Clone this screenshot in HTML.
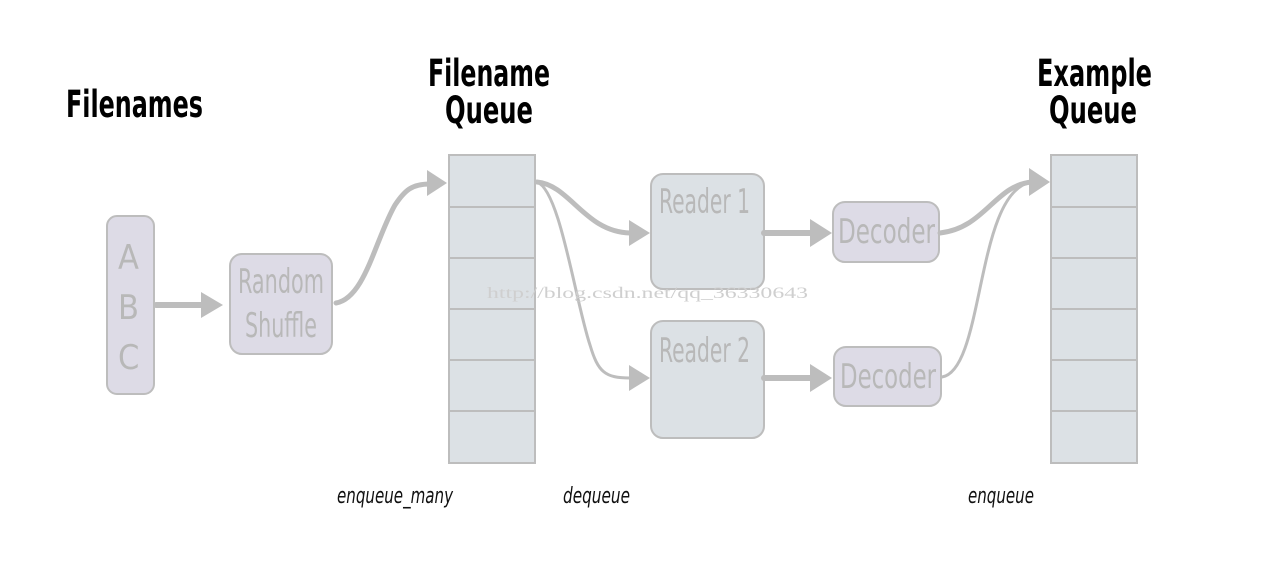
<!DOCTYPE html>
<html><head><meta charset="utf-8"><style>
html,body{margin:0;padding:0;background:#fff;}
svg{display:block;}
.t{font-family:"DejaVu Sans Condensed","DejaVu Sans",sans-serif;font-weight:bold;fill:#000;font-size:37px;}
.b{font-family:"DejaVu Sans Condensed","DejaVu Sans",sans-serif;fill:#b8b8b8;font-size:34px;}
.i{font-family:"DejaVu Sans Condensed","DejaVu Sans",sans-serif;font-style:italic;fill:#111;font-size:22px;}
</style></head><body>
<svg width="1277" height="563" viewBox="0 0 1277 563" xmlns="http://www.w3.org/2000/svg">
<rect width="1277" height="563" fill="#fff"/>
<text class="t" x="66" y="117" textLength="137" lengthAdjust="spacingAndGlyphs">Filenames</text>
<text class="t" x="428" y="86" textLength="122" lengthAdjust="spacingAndGlyphs">Filename</text>
<text class="t" x="445" y="123" textLength="88" lengthAdjust="spacingAndGlyphs">Queue</text>
<text class="t" x="1037" y="86" textLength="115" lengthAdjust="spacingAndGlyphs">Example</text>
<text class="t" x="1049" y="123" textLength="88" lengthAdjust="spacingAndGlyphs">Queue</text>

<g stroke="#bdbdbd" stroke-width="2">
<rect x="107" y="216" width="47" height="178" rx="10" fill="#dddbe6"/>
<rect x="230" y="254" width="102" height="100" rx="12" fill="#dddbe6"/>
<rect x="651" y="174" width="113" height="115" rx="12" fill="#dce1e5"/>
<rect x="651" y="321" width="113" height="117" rx="12" fill="#dce1e5"/>
<rect x="833" y="202" width="106" height="60" rx="12" fill="#dddbe6"/>
<rect x="834" y="347" width="107" height="59" rx="12" fill="#dddbe6"/>
<rect x="449" y="155" width="86" height="308" fill="#dce1e5"/>
<rect x="1051" y="155" width="86" height="308" fill="#dce1e5"/>
<path d="M449 207H535M449 258H535M449 309H535M449 360H535M449 411H535M1051 207H1137M1051 258H1137M1051 309H1137M1051 360H1137M1051 411H1137" fill="none"/>
</g>

<text class="b" x="118" y="269" font-size="36">A</text>
<text class="b" x="118" y="319" font-size="36">B</text>
<text class="b" x="118" y="369" font-size="36">C</text>
<text class="b" x="238" y="293" textLength="86" lengthAdjust="spacingAndGlyphs">Random</text>
<text class="b" x="245" y="337" textLength="72" lengthAdjust="spacingAndGlyphs">Shuffle</text>
<text class="b" x="659" y="213" textLength="91" lengthAdjust="spacingAndGlyphs">Reader 1</text>
<text class="b" x="659" y="362" textLength="91" lengthAdjust="spacingAndGlyphs">Reader 2</text>
<text class="b" x="838" y="243" textLength="97" lengthAdjust="spacingAndGlyphs">Decoder</text>
<text class="b" x="840" y="388" textLength="96" lengthAdjust="spacingAndGlyphs">Decoder</text>

<g stroke="#bdbdbd" fill="none" stroke-linecap="round">
<path d="M156 305H205" stroke-width="6"/>
<path d="M336 303C365 298 375 240 395 205C405 190 412 184 430 184" stroke-width="5"/>
<path d="M537 182C570 185 585 232 630 233" stroke-width="5"/>
<path d="M537 182C560 190 575 300 590 345C598 372 605 378 630 378" stroke-width="3"/>
<path d="M764 233H812" stroke-width="6"/>
<path d="M764 378H812" stroke-width="6"/>
<path d="M940 233C985 228 995 185 1032 182" stroke-width="5"/>
<path d="M942 377C985 370 975 190 1032 182" stroke-width="3"/>
</g>
<g fill="#bdbdbd">
<path d="M201 292L223 305L201 318Z"/>
<path d="M427 170L447 183L427 196Z"/>
<path d="M629 220L650 233L629 246Z"/>
<path d="M629 365L650 378L629 391Z"/>
<path d="M810 219L832 233L810 247Z"/>
<path d="M810 364L832 378L810 392Z"/>
<path d="M1029 168L1050 182L1029 196Z"/>
</g>

<text x="487" y="298" font-family="Liberation Serif,serif" font-size="16" fill="#cfcfcf" textLength="321" lengthAdjust="spacingAndGlyphs">http://blog.csdn.net/qq_36330643</text>

<text class="i" x="337" y="503" textLength="116" lengthAdjust="spacingAndGlyphs">enqueue_many</text>
<text class="i" x="563" y="503" textLength="67" lengthAdjust="spacingAndGlyphs">dequeue</text>
<text class="i" x="968" y="503" textLength="66" lengthAdjust="spacingAndGlyphs">enqueue</text>
</svg>
</body></html>
